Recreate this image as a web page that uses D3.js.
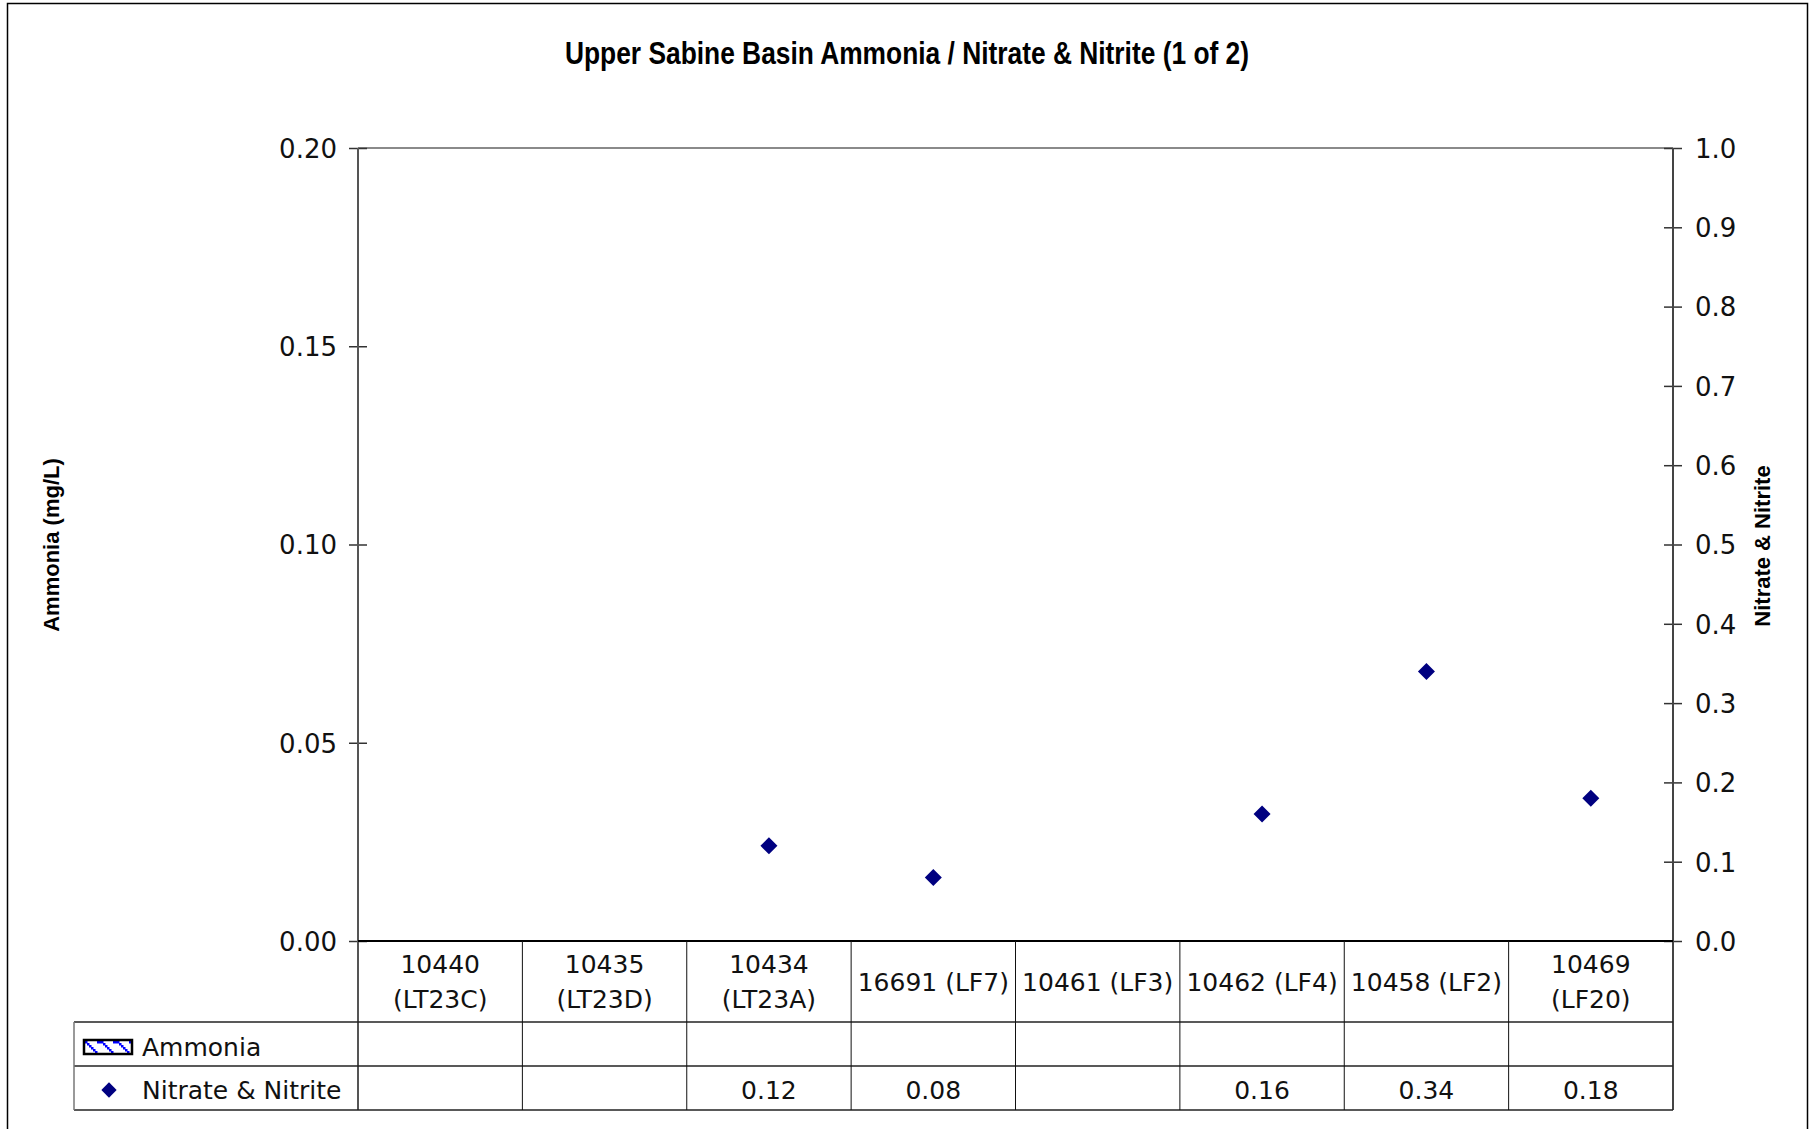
<!DOCTYPE html>
<html>
<head>
<meta charset="utf-8">
<script src="https://cdn.jsdelivr.net/npm/d3@7"></script>
<style>
  html, body { margin: 0; padding: 0; background: #fff; }
  svg { display: block; }
</style>
</head>
<body>
<svg id="chart" width="1815" height="1129"></svg>
<script>
// ---- data ----
const title = "Upper Sabine Basin Ammonia / Nitrate & Nitrite (1 of 2)";
const categories = ["10440 (LT23C)", "10435 (LT23D)", "10434 (LT23A)", "16691 (LF7)",
                    "10461 (LF3)", "10462 (LF4)", "10458 (LF2)", "10469 (LF20)"];
const ammonia = [null, null, null, null, null, null, null, null];
const nitrateNitrite = [null, null, 0.12, 0.08, null, 0.16, 0.34, 0.18];
const leftTicks = [0, 0.05, 0.10, 0.15, 0.20];
const rightTicks = [0, 0.1, 0.2, 0.3, 0.4, 0.5, 0.6, 0.7, 0.8, 0.9, 1.0];
const seriesNames = ["Ammonia", "Nitrate & Nitrite"];
const leftTitle = "Ammonia (mg/L)";
const rightTitle = "Nitrate & Nitrite";

// ---- layout ----
const W = 1815, H = 1129;
const plot = { left: 358, right: 1673, top: 148, bottom: 941 };
const rows = [941, 1022, 1066, 1110];
const tableLeft = 74;
const numFont = "'DejaVu Sans', sans-serif";
const boldFont = "'Liberation Sans', Arial, sans-serif";

const svg = d3.select("#chart");

// pattern for ammonia swatch
const defs = svg.append("defs");
const pat = defs.append("pattern").attr("id", "ammPat").attr("patternUnits", "userSpaceOnUse")
  .attr("width", 16).attr("height", 12).attr("x", 85).attr("y", 1041);
pat.append("rect").attr("width", 16).attr("height", 12).attr("fill", "#fff");
[[0,0],[2,2],[4,4],[6,6],[8,8],[10,10]].forEach(([a,b]) => {
  pat.append("rect").attr("x", a).attr("y", b).attr("width", 2.5).attr("height", 2.5).attr("fill", "#0000ff");
});
pat.append("rect").attr("x", 12).attr("y", 0).attr("width", 4).attr("height", 2.5).attr("fill", "#0000ff");

// outer border
svg.append("rect").attr("x", 7.5).attr("y", 3.5).attr("width", 1800).attr("height", 1140)
  .attr("fill", "none").attr("stroke", "#000").attr("stroke-width", 1.5);

// title (condensed bold)
svg.append("text").attr("x", 907).attr("y", 63.5).attr("text-anchor", "middle")
  .attr("font-family", boldFont).attr("font-weight", "bold").attr("font-size", 31)
  .attr("textLength", 684).attr("lengthAdjust", "spacingAndGlyphs")
  .attr("fill", "#000").text(title);

// scales
const x = d3.scaleBand().domain(categories).range([plot.left, plot.right]).padding(0);
const yL = d3.scaleLinear().domain([0, 0.2]).range([plot.bottom, plot.top]);
const yR = d3.scaleLinear().domain([0, 1.0]).range([plot.bottom, plot.top]);

// plot top border
svg.append("line").attr("x1", plot.left).attr("x2", plot.right).attr("y1", plot.top).attr("y2", plot.top)
  .attr("stroke", "#8a8a8a").attr("stroke-width", 2);

// left axis
const gL = svg.append("g").attr("transform", `translate(${plot.left},0)`)
  .call(d3.axisLeft(yL).tickValues(leftTicks).tickFormat(d3.format(".2f")).tickSize(9).tickPadding(12));
gL.select(".domain").remove();
gL.selectAll(".tick line").attr("x2", 9).attr("x1", -9).attr("stroke", "#333").attr("stroke-width", 1.5);
gL.selectAll(".tick text").attr("x", -21).attr("font-family", numFont).attr("font-size", 26)
  .attr("fill", "#111").attr("dy", "0.36em");
svg.append("line").attr("x1", plot.left).attr("x2", plot.left).attr("y1", plot.top).attr("y2", rows[3])
  .attr("stroke", "#555").attr("stroke-width", 2);

// right axis
const gR = svg.append("g").attr("transform", `translate(${plot.right},0)`)
  .call(d3.axisRight(yR).tickValues(rightTicks).tickFormat(d3.format(".1f")).tickSize(9).tickPadding(12));
gR.select(".domain").remove();
gR.selectAll(".tick line").attr("x1", -9).attr("x2", 9).attr("stroke", "#333").attr("stroke-width", 1.5);
gR.selectAll(".tick text").attr("x", 22).attr("font-family", numFont).attr("font-size", 26)
  .attr("fill", "#111").attr("dy", "0.36em");
svg.append("line").attr("x1", plot.right).attr("x2", plot.right).attr("y1", plot.top).attr("y2", rows[3])
  .attr("stroke", "#444").attr("stroke-width", 2);

// bottom axis
svg.append("line").attr("x1", plot.left).attr("x2", plot.right).attr("y1", plot.bottom).attr("y2", plot.bottom)
  .attr("stroke", "#000").attr("stroke-width", 2);

// axis titles
svg.append("text").attr("transform", `translate(51,545) rotate(-90)`).attr("text-anchor", "middle")
  .attr("dy", "0.35em").attr("font-family", boldFont).attr("font-weight", "bold").attr("font-size", 22)
  .attr("fill", "#000").text(leftTitle);
svg.append("text").attr("transform", `translate(1762,546) rotate(-90)`).attr("text-anchor", "middle")
  .attr("dy", "0.35em").attr("font-family", boldFont).attr("font-weight", "bold").attr("font-size", 22)
  .attr("fill", "#000").text(rightTitle);

// ammonia bars (none have values)
svg.append("g").selectAll("rect").data(categories.map((c, i) => ({ c, v: ammonia[i] })).filter(d => d.v != null))
  .join("rect").attr("x", d => x(d.c) + x.bandwidth() * 0.2).attr("width", x.bandwidth() * 0.6)
  .attr("y", d => yL(d.v)).attr("height", d => yL(0) - yL(d.v)).attr("fill", "url(#ammPat)").attr("stroke", "#000");

// nitrate markers
const diamond = "M0,-8.5L8.5,0L0,8.5L-8.5,0Z";
svg.append("g").selectAll("path").data(categories.map((c, i) => ({ c, v: nitrateNitrite[i] })).filter(d => d.v != null))
  .join("path").attr("d", diamond)
  .attr("transform", d => `translate(${x(d.c) + x.bandwidth() / 2},${yR(d.v)})`)
  .attr("fill", "#000080");

// ---- data table ----
const tbl = svg.append("g");
[1, 2, 3].forEach(r => {
  tbl.append("line").attr("x1", tableLeft).attr("x2", plot.right).attr("y1", rows[r]).attr("y2", rows[r])
    .attr("stroke", "#222").attr("stroke-width", 1.5);
});
tbl.append("line").attr("x1", tableLeft).attr("x2", tableLeft).attr("y1", rows[1]).attr("y2", rows[3])
  .attr("stroke", "#777").attr("stroke-width", 1.5);
tbl.selectAll("line.v").data(categories.slice(1)).join("line").attr("class", "v")
  .attr("x1", d => x(d)).attr("x2", d => x(d)).attr("y1", rows[0]).attr("y2", rows[3])
  .attr("stroke", "#111").attr("stroke-width", 1);

// category labels (wrap when too wide)
const catG = tbl.append("g");
categories.forEach(c => {
  const cx = x(c) + x.bandwidth() / 2;
  const t = catG.append("text").attr("x", cx).attr("text-anchor", "middle")
    .attr("font-family", numFont).attr("font-size", 25).attr("fill", "#111");
  t.text(c);
  const w = t.node().getComputedTextLength();
  if (w > x.bandwidth() - 6) {
    t.text(null);
    const parts = c.split(" ");
    t.append("tspan").attr("x", cx).attr("y", 964).attr("dy", "0.36em").text(parts[0]);
    t.append("tspan").attr("x", cx).attr("y", 999).attr("dy", "0.36em").text(parts.slice(1).join(" "));
  } else {
    t.attr("y", 981.5).attr("dy", "0.36em");
  }
});

// legend keys in table
tbl.append("rect").attr("x", 84).attr("y", 1040).attr("width", 48).attr("height", 14)
  .attr("fill", "url(#ammPat)").attr("stroke", "#000").attr("stroke-width", 2.5);
tbl.append("text").attr("x", 142).attr("y", 1047).attr("dy", "0.36em").attr("font-family", numFont)
  .attr("font-size", 25).attr("fill", "#111").text(seriesNames[0]);
tbl.append("path").attr("d", diamond).attr("transform", "translate(109,1090) scale(0.9)").attr("fill", "#000080");
tbl.append("text").attr("x", 142).attr("y", 1090).attr("dy", "0.36em").attr("font-family", numFont)
  .attr("font-size", 25).attr("fill", "#111").text(seriesNames[1]);

// values rows
tbl.append("g").selectAll("text").data(categories.map((c, i) => ({ c, v: ammonia[i] })).filter(d => d.v != null))
  .join("text").attr("x", d => x(d.c) + x.bandwidth() / 2).attr("y", 1046).attr("dy", "0.36em")
  .attr("text-anchor", "middle").attr("font-family", numFont).attr("font-size", 25).attr("fill", "#111")
  .text(d => d3.format(".2f")(d.v));
tbl.append("g").selectAll("text").data(categories.map((c, i) => ({ c, v: nitrateNitrite[i] })).filter(d => d.v != null))
  .join("text").attr("x", d => x(d.c) + x.bandwidth() / 2).attr("y", 1090).attr("dy", "0.36em")
  .attr("text-anchor", "middle").attr("font-family", numFont).attr("font-size", 25).attr("fill", "#111")
  .text(d => d3.format(".2f")(d.v));
</script>
</body>
</html>
